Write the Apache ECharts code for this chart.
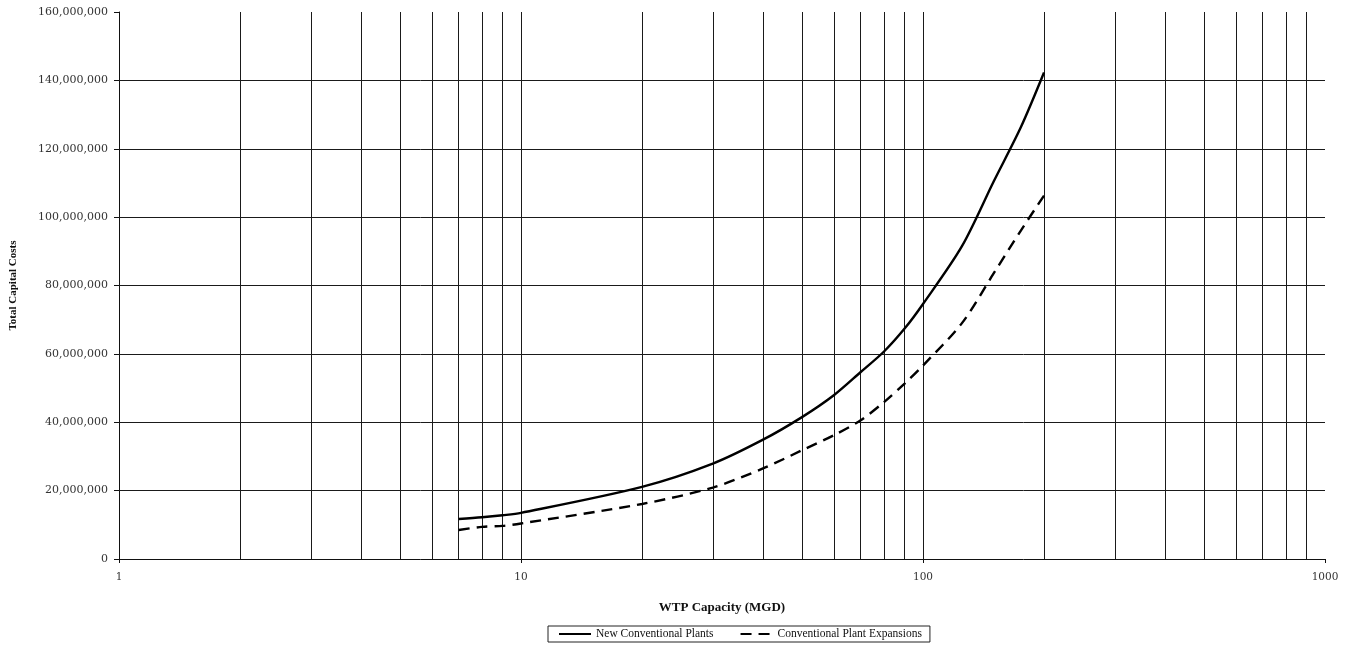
<!DOCTYPE html>
<html>
<head>
<meta charset="utf-8">
<script src="https://cdn.jsdelivr.net/npm/echarts@6/dist/echarts.min.js"></script>
<style>
html,body{margin:0;padding:0;background:#fff;}
#chart{width:1355px;height:652px;}
</style>
</head>
<body>
<div id="chart"></div>
<script>
// WTP capacity (MGD)
const capacity = [7, 8, 9, 10, 20, 30, 40, 50, 60, 70, 80, 90, 100, 125, 150, 175, 200];
// Total capital costs ($)
const newConventionalPlants = [11700000, 12200000, 12800000, 13500000, 21100000, 27900000, 34900000, 41500000, 47900000, 54700000, 60700000, 67400000, 74600000, 91500000, 110500000, 126200000, 142300000];
const conventionalPlantExpansions = [8500000, 9400000, 9700000, 10400000, 16100000, 20900000, 26500000, 31800000, 36200000, 40600000, 45900000, 51300000, 56600000, 69000000, 83600000, 96000000, 106300000];
const seriesNames = ['New Conventional Plants', 'Conventional Plant Expansions'];
// grid lines
const verticalGridValues = [2,3,4,5,6,7,8,9,10,20,30,40,50,60,70,80,90,100,200,300,400,500,600,700,800,900];
const horizontalGridValues = [20000000,40000000,60000000,80000000,100000000,120000000,140000000];

const chart = echarts.init(document.getElementById('chart'));
const serif = 'Liberation Serif';
const gridLine = {color: '#1a1a1a', width: 1, type: 'solid'};

const gridMarks = verticalGridValues.map(v => ({xAxis: v}))
  .concat(horizontalGridValues.map(v => ({yAxis: v})));

chart.setOption({
  animation: false,
  backgroundColor: '#fff',
  grid: {left: 118, right: 30, top: 12, bottom: 93, containLabel: false},
  xAxis: {
    type: 'log', logBase: 10, min: 1, max: 1000,
    name: 'WTP Capacity (MGD)', nameLocation: 'middle', nameGap: 42,
    nameTextStyle: {fontFamily: serif, fontWeight: 'bold', fontSize: 13, color: '#111'},
    axisLine: {show: true, lineStyle: {color: '#111', width: 1}},
    axisTick: {show: true, length: 4, lineStyle: {color: '#111'}},
    axisLabel: {fontFamily: 'DejaVu Serif', fontSize: 10.5, color: '#333', margin: 13,
      formatter: v => String(v)},
    splitLine: {show: false}
  },
  yAxis: {
    type: 'value', min: 0, max: 160000000, interval: 20000000,
    name: 'Total Capital Costs', nameLocation: 'middle', nameGap: 100, nameRotate: 90,
    nameTextStyle: {fontFamily: serif, fontWeight: 'bold', fontSize: 11, color: '#111'},
    axisLine: {show: true, lineStyle: {color: '#111', width: 1}},
    axisTick: {show: true, length: 5, lineStyle: {color: '#111'}},
    axisLabel: {
      fontFamily: 'DejaVu Serif', fontSize: 11, color: '#333', margin: 11,
      formatter: v => v.toLocaleString('en-US')
    },
    splitLine: {show: false}
  },
  legend: {
    left: 548, top: 626,
    padding: [2, 8, 2, 10],
    borderColor: '#222', borderWidth: 1,
    itemWidth: 32, itemHeight: 8, itemGap: 26,
    itemStyle: {opacity: 0},
    textStyle: {fontFamily: serif, fontSize: 11.5, color: '#111'},
    data: seriesNames
  },
  series: [
    {
      name: seriesNames[0], type: 'line',
      data: capacity.map((c, i) => [c, newConventionalPlants[i]]),
      symbol: 'none', smooth: 0.3,
      lineStyle: {color: '#000', width: 2.4, type: 'solid'},
      itemStyle: {color: '#000'},
      z: 3,
      markLine: {
        silent: true, symbol: ['none', 'none'], label: {show: false},
        lineStyle: gridLine, z: 1,
        data: gridMarks
      }
    },
    {
      name: seriesNames[1], type: 'line',
      data: capacity.map((c, i) => [c, conventionalPlantExpansions[i]]),
      symbol: 'none', smooth: 0.3,
      lineStyle: {color: '#000', width: 2.4, type: [11, 7]},
      itemStyle: {color: '#000'},
      z: 3
    }
  ]
});
</script>
</body>
</html>
